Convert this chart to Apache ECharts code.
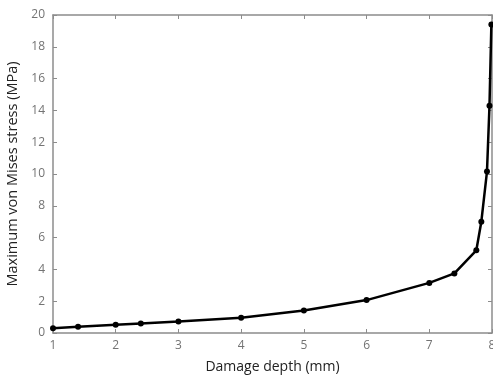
<!DOCTYPE html>
<html>
<head>
<meta charset="utf-8">
<script src="https://cdn.jsdelivr.net/npm/echarts@6/dist/echarts.min.js"></script>
<style>
  html, body { margin: 0; padding: 0; background: #fff; }
  #chart { width: 493px; height: 376px; }
</style>
</head>
<body>
<div id="chart"></div>
<script>
// Damage depth (mm)
const depth = [1, 1.4, 2, 2.4, 3, 4, 5, 6, 7, 7.4, 7.75, 7.83, 7.92, 7.96, 7.99];
// Maximum von Mises stress (MPa)
const stress = [0.3, 0.4, 0.52, 0.6, 0.72, 0.96, 1.42, 2.07, 3.15, 3.75, 5.2, 7.0, 10.15, 14.3, 19.4];
const xTicks = [1, 2, 3, 4, 5, 6, 7, 8];
const yTicks = [0, 2, 4, 6, 8, 10, 12, 14, 16, 18, 20];

const axisGray = '#8c8c8c';
const labelGray = '#737373';
const font = 'Open Sans, DejaVu Sans, sans-serif';

const chart = echarts.init(document.getElementById('chart'));

const frameAxis = (pos) => ({
  position: pos,
  axisLine: { show: true, onZero: false, lineStyle: { color: axisGray, width: 1.5 } },
  axisTick: { show: true, inside: true, length: 4, lineStyle: { color: axisGray } },
  axisLabel: { show: false },
  splitLine: { show: false }
});

chart.setOption({
  animation: false,
  backgroundColor: '#fff',
  grid: { left: 53, right: 1, top: 15, bottom: 43, containLabel: false, outerBoundsMode: 'none' },
  xAxis: [
    Object.assign({
      type: 'value', min: xTicks[0], max: xTicks[xTicks.length - 1], interval: 1,
      name: 'Damage depth (mm)', nameLocation: 'middle', nameGap: 27,
      nameTextStyle: { color: '#222', fontSize: 14, fontFamily: font }
    }, frameAxis('bottom'), {
      axisLabel: { show: true, color: labelGray, fontSize: 12, fontFamily: font, margin: 7 }
    }),
    Object.assign({ type: 'value', min: 1, max: 8, interval: 1 }, frameAxis('top'))
  ],
  yAxis: [
    Object.assign({
      type: 'value', min: yTicks[0], max: yTicks[yTicks.length - 1], interval: 2,
      name: 'Maximum von Mises stress (MPa)', nameLocation: 'middle', nameGap: 31,
      nameTextStyle: { color: '#222', fontSize: 14.5, fontFamily: font }
    }, frameAxis('left'), {
      axisLabel: { show: true, color: labelGray, fontSize: 12, fontFamily: font, margin: 8 }
    }),
    Object.assign({ type: 'value', min: 0, max: 20, interval: 2 }, frameAxis('right'))
  ],
  series: [{
    type: 'line',
    data: depth.map((d, i) => [d, stress[i]]),
    xAxisIndex: 0, yAxisIndex: 0,
    symbol: 'circle', symbolSize: 6,
    lineStyle: { color: '#000', width: 2.5 },
    itemStyle: { color: '#000' },
    clip: false
  }]
});
</script>
</body>
</html>
